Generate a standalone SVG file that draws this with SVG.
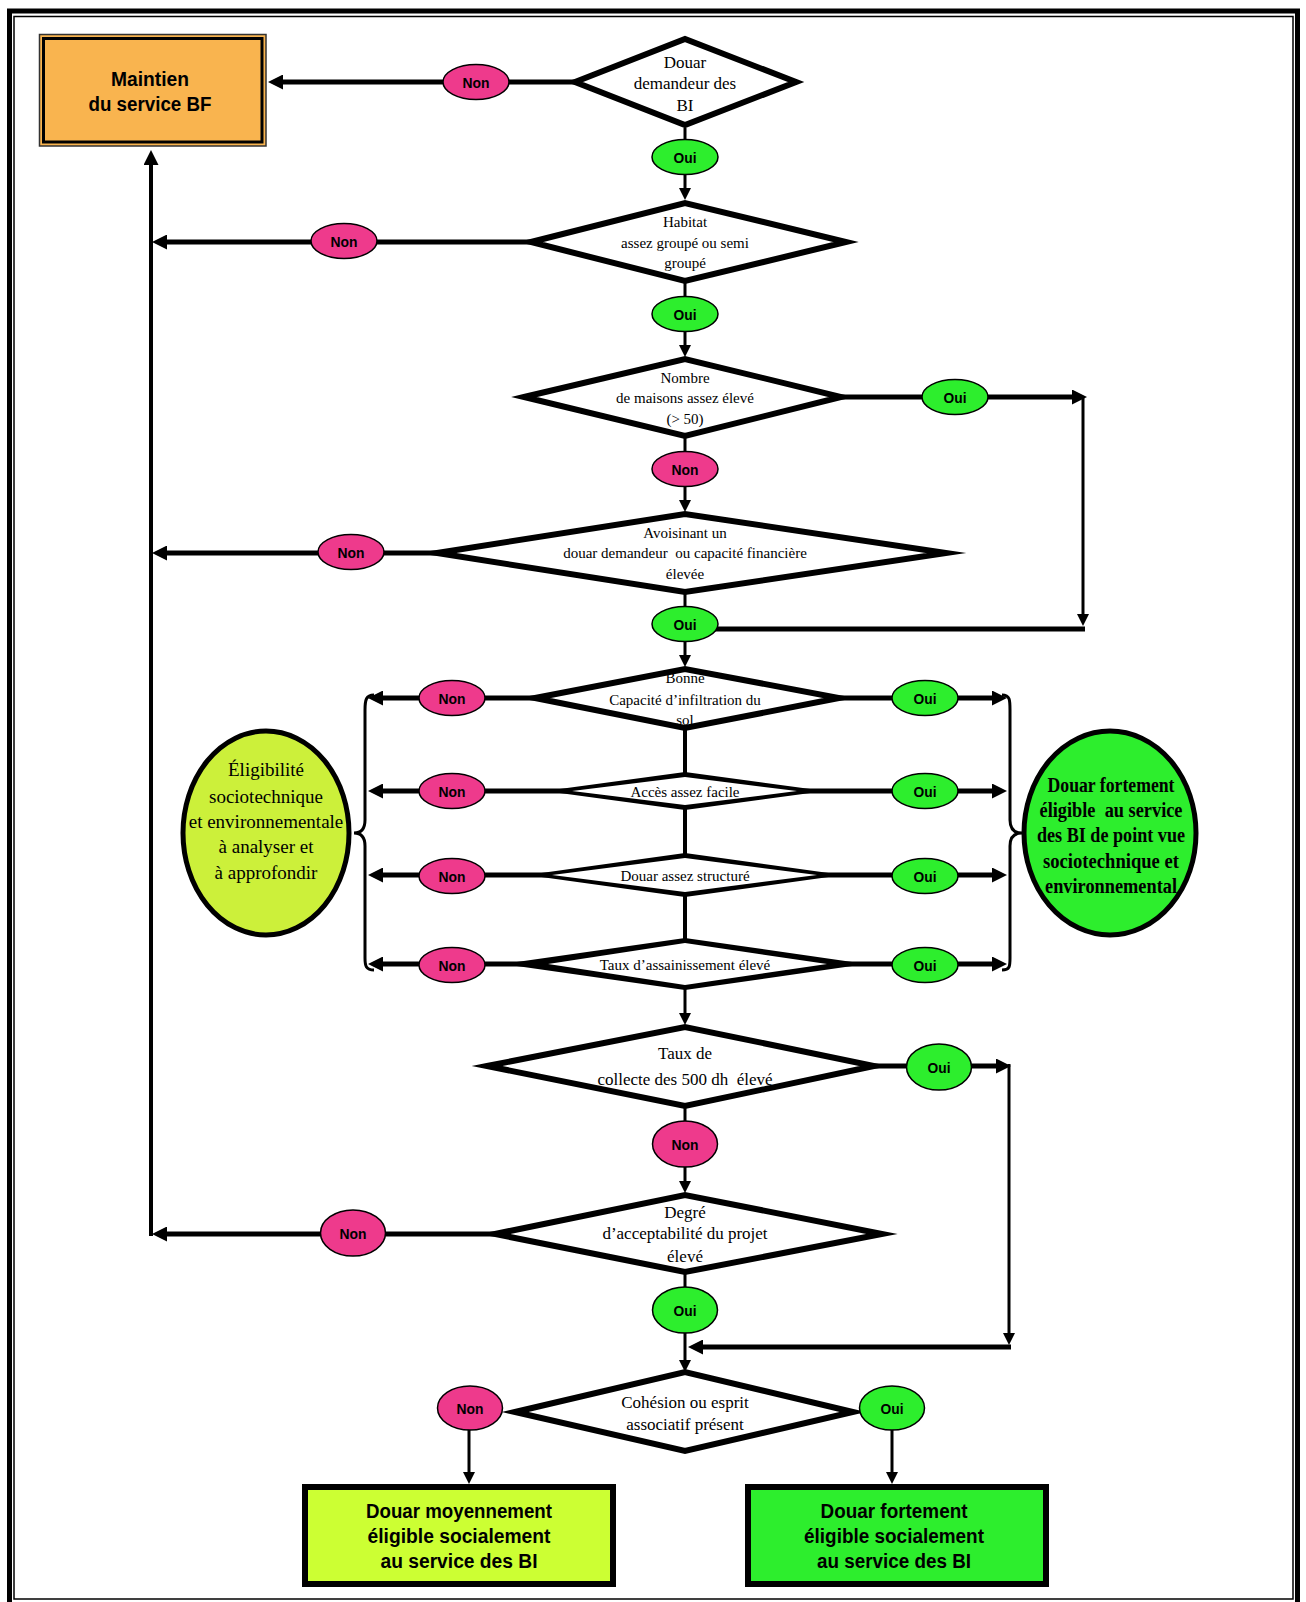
<svg xmlns="http://www.w3.org/2000/svg" width="1306" height="1602" viewBox="0 0 1306 1602">
<defs>
<style>
.dia{fill:#fff;stroke:#000;stroke-width:6;stroke-linejoin:miter;stroke-miterlimit:12}
.dt{font-family:"Liberation Serif","Times New Roman",serif;font-size:15px;text-anchor:middle;fill:#000}
.d17{font-size:17px}
.non{fill:#EE3A8C;stroke:#000;stroke-width:1.5}
.oui{fill:#2DEE2D;stroke:#000;stroke-width:1.5}
.lbl{font-family:"Liberation Sans",Arial,sans-serif;font-weight:bold;font-size:15.5px;text-anchor:middle;fill:#000}
.cb{stroke:#000;stroke-width:5;fill:none}
.cm{stroke:#000;stroke-width:4;fill:none}
.cs{stroke:#000;stroke-width:3;fill:none}
.bx{font-family:"Liberation Sans",Arial,sans-serif;font-weight:bold;font-size:19.5px;text-anchor:middle;fill:#000}
.et{font-family:"Liberation Serif","Times New Roman",serif;font-size:19px;text-anchor:middle;fill:#000}
.etb{font-family:"Liberation Serif","Times New Roman",serif;font-size:20px;font-weight:bold;text-anchor:middle;fill:#000}
</style>
<marker id="aL" markerUnits="userSpaceOnUse" markerWidth="16" markerHeight="15" refX="3" refY="7.5" orient="auto"><path d="M0,0 L15,7.5 L0,15 z" fill="#000"/></marker>
<marker id="aS" markerUnits="userSpaceOnUse" markerWidth="12" markerHeight="12" refX="2" refY="6" orient="auto"><path d="M0,0 L12,6 L0,12 z" fill="#000"/></marker>
</defs>
<rect width="1306" height="1602" fill="#fff"/>
<g id="frame" fill="none" stroke="#000">
<rect x="9.5" y="11" width="1288" height="1610" stroke-width="5"/>
<rect x="14" y="16.5" width="1279" height="1582.5" stroke-width="1.5"/>
</g>
<g id="connectors">
<line class="cb" x1="580" y1="82" x2="280" y2="82" marker-end="url(#aL)"/>
<line class="cs" x1="685" y1="128" x2="685" y2="190" marker-end="url(#aS)"/>
<line class="cb" x1="535" y1="242" x2="164" y2="242" marker-end="url(#aL)"/>
<line class="cs" x1="685" y1="282" x2="685" y2="347" marker-end="url(#aS)"/>
<line class="cb" x1="840" y1="397" x2="1075" y2="397" marker-end="url(#aL)"/>
<line class="cs" x1="1083" y1="397" x2="1083" y2="616" marker-end="url(#aS)"/>
<line class="cb" x1="700" y1="629" x2="1085" y2="629"/>
<line class="cs" x1="685" y1="437" x2="685" y2="502" marker-end="url(#aS)"/>
<line class="cb" x1="440" y1="553" x2="164" y2="553" marker-end="url(#aL)"/>
<line class="cs" x1="685" y1="593" x2="685" y2="657" marker-end="url(#aS)"/>
<line class="cb" x1="540" y1="698" x2="380" y2="698" marker-end="url(#aL)"/>
<line class="cb" x1="835" y1="698" x2="995" y2="698" marker-end="url(#aL)"/>
<line class="cm" x1="685" y1="728" x2="685" y2="940"/>
<line class="cb" x1="572" y1="791" x2="380" y2="791" marker-end="url(#aL)"/>
<line class="cb" x1="797" y1="791" x2="995" y2="791" marker-end="url(#aL)"/>
<line class="cb" x1="552" y1="875" x2="380" y2="875" marker-end="url(#aL)"/>
<line class="cb" x1="817" y1="875" x2="995" y2="875" marker-end="url(#aL)"/>
<line class="cb" x1="548" y1="964" x2="380" y2="964" marker-end="url(#aL)"/>
<line class="cb" x1="827" y1="964" x2="995" y2="964" marker-end="url(#aL)"/>
<path class="cs" d="M374,695 C366,695 365,700 365,710 L365,820 C365,830 360,833 354,833 C360,833 365,836 365,846 L365,958 C365,966 366,970 374,970"/>
<path class="cs" d="M1002,695 C1010,695 1010,700 1010,710 L1010,820 C1010,830 1015,833 1022,833 C1015,833 1010,836 1010,846 L1010,958 C1010,966 1010,970 1002,970"/>
<line class="cs" x1="685" y1="988" x2="685" y2="1015" marker-end="url(#aS)"/>
<line class="cb" x1="870" y1="1066" x2="999" y2="1066" marker-end="url(#aL)"/>
<line class="cs" x1="1009" y1="1064" x2="1009" y2="1335" marker-end="url(#aS)"/>
<line class="cb" x1="1011" y1="1347" x2="700" y2="1347" marker-end="url(#aL)"/>
<line class="cs" x1="685" y1="1107" x2="685" y2="1183" marker-end="url(#aS)"/>
<line class="cb" x1="500" y1="1234" x2="164" y2="1234" marker-end="url(#aL)"/>
<line class="cm" x1="151" y1="1236" x2="151" y2="162" marker-end="url(#aL)"/>
<line class="cs" x1="685" y1="1273" x2="685" y2="1362" marker-end="url(#aS)"/>
<line class="cs" x1="469" y1="1428" x2="469" y2="1474" marker-end="url(#aS)"/>
<line class="cs" x1="892" y1="1428" x2="892" y2="1474" marker-end="url(#aS)"/>
</g>
<g id="n-maintien">
<rect x="39.5" y="34.5" width="226.5" height="111.5" fill="#F9B44F" stroke="#333" stroke-width="1.5"/>
<rect x="43.5" y="38.5" width="218.5" height="103.5" fill="none" stroke="#000" stroke-width="3"/>
<text class="bx" x="150" y="86" font-size="20" textLength="78" lengthAdjust="spacingAndGlyphs">Maintien</text>
<text class="bx" x="150" y="111" font-size="20" textLength="123" lengthAdjust="spacingAndGlyphs">du service BF</text>
</g>
<g id="d1">
<polygon class="dia" points="575,82 685,39 796,82 685,125"/>
<text class="dt d17" x="685" y="68">Douar</text>
<text class="dt d17" x="685" y="89">demandeur des</text>
<text class="dt d17" x="685" y="111">BI</text>
</g>
<g id="d2">
<polygon class="dia" points="531,242 685,203 846,242 685,281"/>
<text class="dt" x="685" y="227">Habitat</text>
<text class="dt" x="685" y="248">assez groupé ou semi</text>
<text class="dt" x="685" y="268">groupé</text>
</g>
<g id="d3">
<polygon class="dia" points="524,397 685,359 841,397 685,436"/>
<text class="dt" x="685" y="383">Nombre</text>
<text class="dt" x="685" y="403">de maisons assez élevé</text>
<text class="dt" x="685" y="424">(&gt; 50)</text>
</g>
<g id="d4">
<polygon class="dia" points="437,553 685,514 946,553 685,592"/>
<text class="dt" x="685" y="538">Avoisinant un</text>
<text class="dt" x="685" y="558" xml:space="preserve">douar demandeur  ou capacité financière</text>
<text class="dt" x="685" y="579">élevée</text>
</g>
<g id="d5">
<polygon class="dia" points="535,698 685,669 839,698 685,728"/>
<text class="dt" x="685" y="683">Bonne</text>
<text class="dt" x="685" y="705">Capacité d’infiltration du</text>
<text class="dt" x="685" y="725">sol</text>
</g>
<g id="d6">
<polygon points="545,791 685,772 825,791 685,810" fill="#000"/>
<polygon points="572,791 685,777 797,791 685,805" fill="#fff"/>
<text class="dt" x="685" y="797">Accès assez facile</text>
</g>
<g id="d7">
<polygon points="527,875 685,853 843,875 685,897" fill="#000"/>
<polygon points="552,875 685,858 817,875 685,892" fill="#fff"/>
<text class="dt" x="685" y="881">Douar assez structuré</text>
</g>
<g id="d8">
<polygon points="503,964 685,938 866,964 685,990" fill="#000"/>
<polygon points="548,964 685,943 827,964 685,985" fill="#fff"/>
<text class="dt" x="685" y="970">Taux d’assainissement élevé</text>
</g>
<g id="e-left">
<ellipse cx="266" cy="833" rx="83" ry="102" fill="#CCF03A" stroke="#000" stroke-width="5"/>
<text class="et" x="266" y="776">Éligibilité</text>
<text class="et" x="266" y="803">sociotechnique</text>
<text class="et" x="266" y="828">et environnementale</text>
<text class="et" x="266" y="853">à analyser et</text>
<text class="et" x="266" y="879">à approfondir</text>
</g>
<g id="e-right">
<ellipse cx="1110" cy="833" rx="86" ry="102" fill="#2DEE2D" stroke="#000" stroke-width="5"/>
<text class="etb" x="1111" y="792" textLength="127" lengthAdjust="spacingAndGlyphs">Douar fortement</text>
<text class="etb" x="1111" y="817" textLength="143" lengthAdjust="spacingAndGlyphs" xml:space="preserve">éligible  au service</text>
<text class="etb" x="1111" y="842" textLength="148" lengthAdjust="spacingAndGlyphs">des BI de point vue</text>
<text class="etb" x="1111" y="868" textLength="136" lengthAdjust="spacingAndGlyphs">sociotechnique et</text>
<text class="etb" x="1111" y="893" textLength="132" lengthAdjust="spacingAndGlyphs">environnemental</text>
</g>
<g id="d9">
<polygon class="dia" points="487,1066 685,1027 874,1066 685,1106"/>
<text class="dt d17" x="685" y="1059">Taux de</text>
<text class="dt d17" x="685" y="1085" xml:space="preserve">collecte des 500 dh  élevé</text>
</g>
<g id="d10">
<polygon class="dia" points="495,1234 685,1195 882,1234 685,1272"/>
<text class="dt d17" x="685" y="1218">Degré</text>
<text class="dt d17" x="685" y="1239">d’acceptabilité du projet</text>
<text class="dt d17" x="685" y="1262">élevé</text>
</g>
<g id="d11">
<polygon class="dia" points="515,1412 685,1372 853,1412 685,1451"/>
<text class="dt d17" x="685" y="1408">Cohésion ou esprit</text>
<text class="dt d17" x="685" y="1430">associatif présent</text>
</g>
<g id="b-moyen">
<rect x="305" y="1487" width="308" height="97" fill="#CCFF33" stroke="#000" stroke-width="6"/>
<text class="bx" x="459" y="1518" textLength="186" lengthAdjust="spacingAndGlyphs">Douar moyennement</text>
<text class="bx" x="459" y="1543" textLength="183" lengthAdjust="spacingAndGlyphs">éligible socialement</text>
<text class="bx" x="459" y="1568" textLength="157" lengthAdjust="spacingAndGlyphs">au service des BI</text>
</g>
<g id="b-fort">
<rect x="748" y="1487" width="298" height="97" fill="#2DEE2D" stroke="#000" stroke-width="6"/>
<text class="bx" x="894" y="1518" textLength="147" lengthAdjust="spacingAndGlyphs">Douar fortement</text>
<text class="bx" x="894" y="1543" textLength="180" lengthAdjust="spacingAndGlyphs">éligible socialement</text>
<text class="bx" x="894" y="1568" textLength="154" lengthAdjust="spacingAndGlyphs">au service des BI</text>
</g>
<g id="labels">
<g id="l1n"><ellipse class="non" cx="476" cy="82" rx="33" ry="17.5"/><text class="lbl" x="476" y="88" textLength="27" lengthAdjust="spacingAndGlyphs">Non</text></g>
<g id="l1o"><ellipse class="oui" cx="685" cy="157" rx="33" ry="17.5"/><text class="lbl" x="685" y="163" textLength="23" lengthAdjust="spacingAndGlyphs">Oui</text></g>
<g id="l2n"><ellipse class="non" cx="344" cy="241" rx="33" ry="17.5"/><text class="lbl" x="344" y="247" textLength="27" lengthAdjust="spacingAndGlyphs">Non</text></g>
<g id="l2o"><ellipse class="oui" cx="685" cy="314" rx="33" ry="17.5"/><text class="lbl" x="685" y="320" textLength="23" lengthAdjust="spacingAndGlyphs">Oui</text></g>
<g id="l3o"><ellipse class="oui" cx="955" cy="397" rx="33" ry="17.5"/><text class="lbl" x="955" y="403" textLength="23" lengthAdjust="spacingAndGlyphs">Oui</text></g>
<g id="l3n"><ellipse class="non" cx="685" cy="469" rx="33" ry="17.5"/><text class="lbl" x="685" y="475" textLength="27" lengthAdjust="spacingAndGlyphs">Non</text></g>
<g id="l4n"><ellipse class="non" cx="351" cy="552" rx="33" ry="17.5"/><text class="lbl" x="351" y="558" textLength="27" lengthAdjust="spacingAndGlyphs">Non</text></g>
<g id="l4o"><ellipse class="oui" cx="685" cy="624" rx="33" ry="17.5"/><text class="lbl" x="685" y="630" textLength="23" lengthAdjust="spacingAndGlyphs">Oui</text></g>
<g id="l5n"><ellipse class="non" cx="452" cy="698" rx="33" ry="17.5"/><text class="lbl" x="452" y="704" textLength="27" lengthAdjust="spacingAndGlyphs">Non</text></g>
<g id="l5o"><ellipse class="oui" cx="925" cy="698" rx="33" ry="17.5"/><text class="lbl" x="925" y="704" textLength="23" lengthAdjust="spacingAndGlyphs">Oui</text></g>
<g id="l6n"><ellipse class="non" cx="452" cy="791" rx="33" ry="17.5"/><text class="lbl" x="452" y="797" textLength="27" lengthAdjust="spacingAndGlyphs">Non</text></g>
<g id="l6o"><ellipse class="oui" cx="925" cy="791" rx="33" ry="17.5"/><text class="lbl" x="925" y="797" textLength="23" lengthAdjust="spacingAndGlyphs">Oui</text></g>
<g id="l7n"><ellipse class="non" cx="452" cy="876" rx="33" ry="17.5"/><text class="lbl" x="452" y="882" textLength="27" lengthAdjust="spacingAndGlyphs">Non</text></g>
<g id="l7o"><ellipse class="oui" cx="925" cy="876" rx="33" ry="17.5"/><text class="lbl" x="925" y="882" textLength="23" lengthAdjust="spacingAndGlyphs">Oui</text></g>
<g id="l8n"><ellipse class="non" cx="452" cy="965" rx="33" ry="17.5"/><text class="lbl" x="452" y="971" textLength="27" lengthAdjust="spacingAndGlyphs">Non</text></g>
<g id="l8o"><ellipse class="oui" cx="925" cy="965" rx="33" ry="17.5"/><text class="lbl" x="925" y="971" textLength="23" lengthAdjust="spacingAndGlyphs">Oui</text></g>
<g id="l9o"><ellipse class="oui" cx="939" cy="1067" rx="32.5" ry="23"/><text class="lbl" x="939" y="1073" textLength="23" lengthAdjust="spacingAndGlyphs">Oui</text></g>
<g id="l9n"><ellipse class="non" cx="685" cy="1144" rx="32.5" ry="23"/><text class="lbl" x="685" y="1150" textLength="27" lengthAdjust="spacingAndGlyphs">Non</text></g>
<g id="l10n"><ellipse class="non" cx="353" cy="1233" rx="32.5" ry="23"/><text class="lbl" x="353" y="1239" textLength="27" lengthAdjust="spacingAndGlyphs">Non</text></g>
<g id="l10o"><ellipse class="oui" cx="685" cy="1310" rx="32.5" ry="23"/><text class="lbl" x="685" y="1316" textLength="23" lengthAdjust="spacingAndGlyphs">Oui</text></g>
<g id="l11n"><ellipse class="non" cx="470" cy="1408" rx="32.5" ry="22"/><text class="lbl" x="470" y="1414" textLength="27" lengthAdjust="spacingAndGlyphs">Non</text></g>
<g id="l11o"><ellipse class="oui" cx="892" cy="1408" rx="32.5" ry="22"/><text class="lbl" x="892" y="1414" textLength="23" lengthAdjust="spacingAndGlyphs">Oui</text></g>
</g>
</svg>
